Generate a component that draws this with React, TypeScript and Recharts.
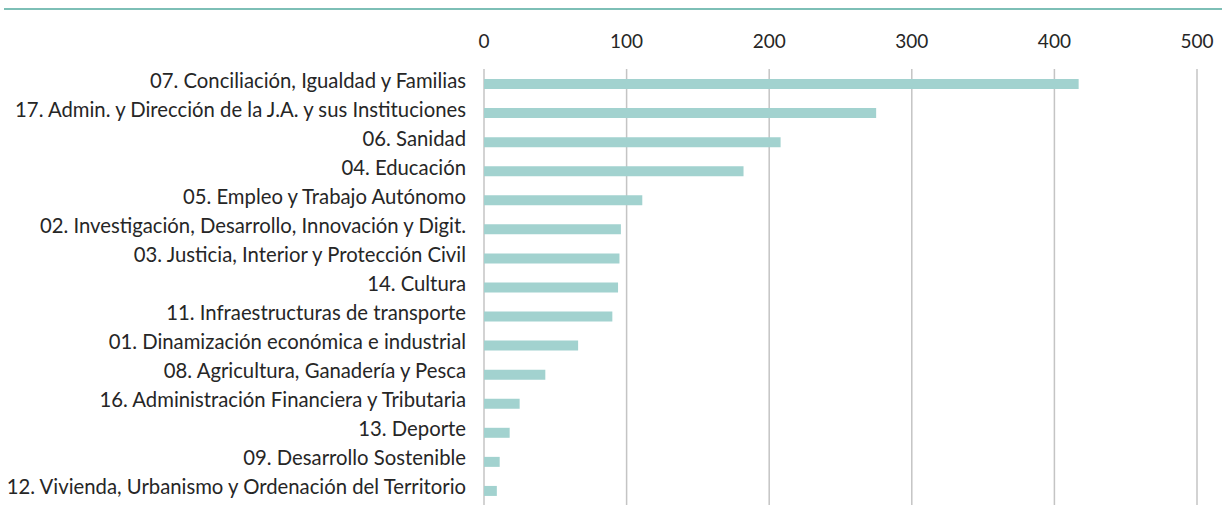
import { BarChart, Bar, XAxis, YAxis, CartesianGrid } from "recharts"

const categories = [
  "07. Conciliación, Igualdad y Familias",
  "17. Admin. y Dirección de la J.A. y sus Instituciones",
  "06. Sanidad",
  "04. Educación",
  "05. Empleo y Trabajo Autónomo",
  "02. Investigación, Desarrollo, Innovación y Digit.",
  "03. Justicia, Interior y Protección Civil",
  "14. Cultura",
  "11. Infraestructuras de transporte",
  "01. Dinamización económica e industrial",
  "08. Agricultura, Ganadería y Pesca",
  "16. Administración Financiera y Tributaria",
  "13. Deporte",
  "09. Desarrollo Sostenible",
  "12. Vivienda, Urbanismo y Ordenación del Territorio",
]

const values = [417, 275, 208, 182, 111, 96, 95, 94, 90, 66, 43, 25, 18, 11, 9]

const xTicks = [0, 100, 200, 300, 400, 500]

const FONT = "Lato, 'Noto Sans', sans-serif"

function CategoryTick(props: any) {
  const { x, y, payload } = props
  return <text x={x} y={y} dy={4} textAnchor="end" fontSize={20.3} fill="#262626" fontFamily={FONT}>
      {payload.value}
    </text>
}

export default function App() {
  const data = categories.map((name, i) => ({ name, value: values[i] }))

  return <div style={{ position: "absolute", left: 0, top: 0, width: 1222, height: 505, background: "#fff" }}>
      <style>{"body{margin:0}"}</style>
      <div style={{ position: "absolute", left: 4, top: 8, width: 1218, height: 2, background: "#7dbfb6" }} />
      <BarChart width={1222} height={505} data={data} layout="vertical" margin={{ top: 0, right: 25, bottom: 0, left: 0 }}>
        <CartesianGrid horizontal={false} stroke="#c4c4c4" strokeWidth={1.5} />
        <XAxis
          type="number"
          orientation="top"
          domain={[0, 500]}
          ticks={xTicks}
          height={69}
          axisLine={false}
          tickLine={false}
          tickSize={0}
          tickMargin={21}
          tick={{ fontSize: 19, fill: "#262626", fontFamily: FONT }}
        />
        <YAxis
          type="category"
          dataKey="name"
          width={484}
          axisLine={false}
          tickLine={false}
          tickSize={0}
          tickMargin={18}
          interval={0}
          tick={<CategoryTick />}
        />
        <Bar dataKey="value" fill="#a2d2cf" barSize={10} isAnimationActive={false} />
      </BarChart>
    </div>
}
